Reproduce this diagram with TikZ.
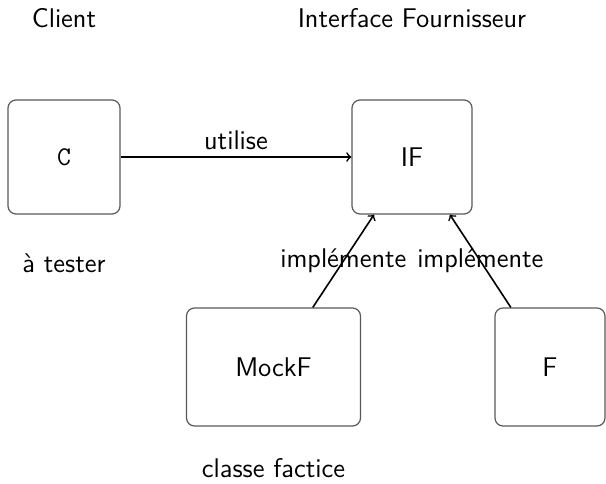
\documentclass[tikz,border=0pt]{standalone}
\usetikzlibrary{arrows}

\begin{document}
\begin{tikzpicture}[x=0.5pt,y=-0.5pt,font=\sffamily\fontsize{13.5}{16}\selectfont]
\tikzstyle{classe} = [rectangle, rounded corners=4pt, draw=black!65, line width=0.6pt]
\tikzstyle{edge} = [draw=black, line width=0.8pt, ->]
\tikzstyle{legende} = [anchor=base]
\useasboundingbox (0,0) rectangle (606,483);

\node[classe, minimum width=56pt, minimum height=57pt] (c) at (64,157) {\texttt{C}};
\node[classe, minimum width=60pt, minimum height=57pt] (if) at (412,157) {IF};
\node[classe, minimum width=87pt, minimum height=59pt] (mock) at (273.5,367) {MockF};
\node[classe, minimum width=55pt, minimum height=59pt] (f) at (550,367) {F};

\node[legende] (client) at (64,27) {Client};
\node[legende] (fourn) at (412,27) {Interface Fournisseur};
\node[legende] (tester) at (64,272) {à tester};
\node[legende] (factice) at (273.5,477) {classe factice};

\draw[edge] (c) to node[above]{utilise} (if);
\draw[edge] (mock) to node{implémente} (if);
\draw[edge] (f) to node{implémente} (if);
\end{tikzpicture}
\end{document}
